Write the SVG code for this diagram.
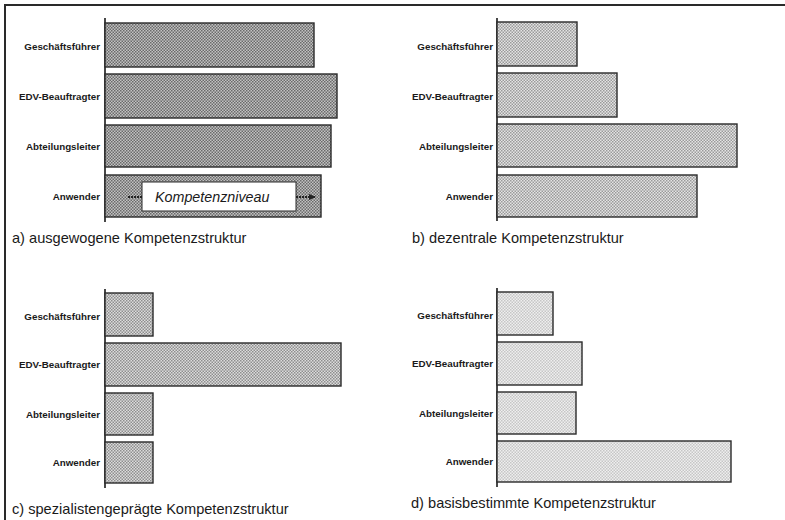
<svg xmlns="http://www.w3.org/2000/svg" width="785" height="520" viewBox="0 0 785 520">
<defs>
<pattern id="pa" width="3" height="3" patternUnits="userSpaceOnUse">
<rect width="3" height="3" fill="#c2c2c2"/>
<rect x="0" y="0" width="1.5" height="1.5" fill="#6a6a6a"/>
<rect x="1.5" y="1.5" width="1.5" height="1.5" fill="#6a6a6a"/>
</pattern>
<pattern id="pb" width="3" height="3" patternUnits="userSpaceOnUse">
<rect width="3" height="3" fill="#e4e4e4"/>
<rect x="0" y="0" width="1.5" height="1.5" fill="#9a9a9a"/>
<rect x="1.5" y="1.5" width="1.5" height="1.5" fill="#9a9a9a"/>
</pattern>
<pattern id="pc" width="3" height="3" patternUnits="userSpaceOnUse">
<rect width="3" height="3" fill="#dcdcdc"/>
<rect x="0" y="0" width="1.5" height="1.5" fill="#8e8e8e"/>
<rect x="1.5" y="1.5" width="1.5" height="1.5" fill="#8e8e8e"/>
</pattern>
<pattern id="pd" width="3" height="3" patternUnits="userSpaceOnUse">
<rect width="3" height="3" fill="#efefef"/>
<rect x="0" y="0" width="1.5" height="1.5" fill="#c6c6c6"/>
<rect x="1.5" y="1.5" width="1.5" height="1.5" fill="#c6c6c6"/>
</pattern>
<marker id="ah" markerWidth="8" markerHeight="8" refX="6" refY="4" orient="auto" markerUnits="userSpaceOnUse">
<path d="M0,1 L7,4 L0,7 Z" fill="#222"/>
</marker>
<style>
.bar{stroke:#2a2a2a;stroke-width:1.4}
.axis{stroke:#1a1a1a;stroke-width:1.6;fill:none}
.lbl{font-family:"Liberation Sans",Arial,sans-serif;font-size:9.8px;font-weight:bold;fill:#1a1a1a;text-anchor:end}
.cap{font-family:"Liberation Sans",Arial,sans-serif;font-size:14.6px;fill:#1a1a1a}
.frame{stroke:#2a2a2a;stroke-width:2;fill:none}
</style>
</defs>
<path class="frame" d="M5,520 L5,5 L785,5"/>

<g id="panel-a">
<line class="axis" x1="105" y1="18" x2="105" y2="222"/>
<g id="a-gf"><rect class="bar" x="105" y="23" width="209" height="44" fill="url(#pa)"/><text class="lbl" x="100" y="50">Geschäftsführer</text></g>
<g id="a-edv"><rect class="bar" x="105" y="74" width="232" height="44" fill="url(#pa)"/><text class="lbl" x="100" y="100">EDV-Beauftragter</text></g>
<g id="a-abt"><rect class="bar" x="105" y="125" width="226" height="42" fill="url(#pa)"/><text class="lbl" x="100" y="150">Abteilungsleiter</text></g>
<g id="a-anw"><rect class="bar" x="105" y="175" width="216" height="42" fill="url(#pa)"/><text class="lbl" x="100" y="200">Anwender</text>
<rect x="142" y="182" width="154" height="29" fill="#fff" stroke="#2a2a2a" stroke-width="1"/>
<text x="155" y="202" font-family="'Liberation Sans',Arial,sans-serif" font-size="14.3" font-style="italic" fill="#1a1a1a">Kompetenzniveau</text>
</g>
<g id="connectors">
<line x1="128" y1="197" x2="142" y2="197" stroke="#222" stroke-width="2" stroke-dasharray="2,1"/>
<line x1="296" y1="197" x2="315" y2="197" stroke="#222" stroke-width="2" stroke-dasharray="2,1" marker-end="url(#ah)"/>
</g>
<text class="cap" x="12" y="243">a) ausgewogene Kompetenzstruktur</text>
</g>

<g id="panel-b">
<line class="axis" x1="497" y1="18" x2="497" y2="221"/>
<g id="b-gf"><rect class="bar" x="497" y="22" width="80" height="44" fill="url(#pb)"/><text class="lbl" x="493" y="50">Geschäftsführer</text></g>
<g id="b-edv"><rect class="bar" x="497" y="73" width="120" height="44" fill="url(#pb)"/><text class="lbl" x="493" y="100">EDV-Beauftragter</text></g>
<g id="b-abt"><rect class="bar" x="497" y="124" width="240" height="43" fill="url(#pb)"/><text class="lbl" x="493" y="150">Abteilungsleiter</text></g>
<g id="b-anw"><rect class="bar" x="497" y="175" width="200" height="42" fill="url(#pb)"/><text class="lbl" x="493" y="200">Anwender</text></g>
<text class="cap" x="412" y="243">b) dezentrale Kompetenzstruktur</text>
</g>

<g id="panel-c">
<line class="axis" x1="105" y1="289" x2="105" y2="488"/>
<g id="c-gf"><rect class="bar" x="105" y="293" width="48" height="43" fill="url(#pc)"/><text class="lbl" x="100" y="320">Geschäftsführer</text></g>
<g id="c-edv"><rect class="bar" x="105" y="343" width="236" height="43" fill="url(#pc)"/><text class="lbl" x="100" y="368">EDV-Beauftragter</text></g>
<g id="c-abt"><rect class="bar" x="105" y="393" width="48" height="42" fill="url(#pc)"/><text class="lbl" x="100" y="418">Abteilungsleiter</text></g>
<g id="c-anw"><rect class="bar" x="105" y="442" width="48" height="41" fill="url(#pc)"/><text class="lbl" x="100" y="466">Anwender</text></g>
<text class="cap" x="12" y="514">c) spezialistengeprägte Kompetenzstruktur</text>
</g>

<g id="panel-d">
<line class="axis" x1="497" y1="288" x2="497" y2="487"/>
<g id="d-gf"><rect class="bar" x="497" y="292" width="56" height="43" fill="url(#pd)"/><text class="lbl" x="493" y="319">Geschäftsführer</text></g>
<g id="d-edv"><rect class="bar" x="497" y="342" width="85" height="43" fill="url(#pd)"/><text class="lbl" x="493" y="367">EDV-Beauftragter</text></g>
<g id="d-abt"><rect class="bar" x="497" y="392" width="79" height="42" fill="url(#pd)"/><text class="lbl" x="493" y="417">Abteilungsleiter</text></g>
<g id="d-anw"><rect class="bar" x="497" y="441" width="234" height="41" fill="url(#pd)"/><text class="lbl" x="493" y="465">Anwender</text></g>
<text class="cap" x="411" y="508">d) basisbestimmte Kompetenzstruktur</text>
</g>
</svg>
